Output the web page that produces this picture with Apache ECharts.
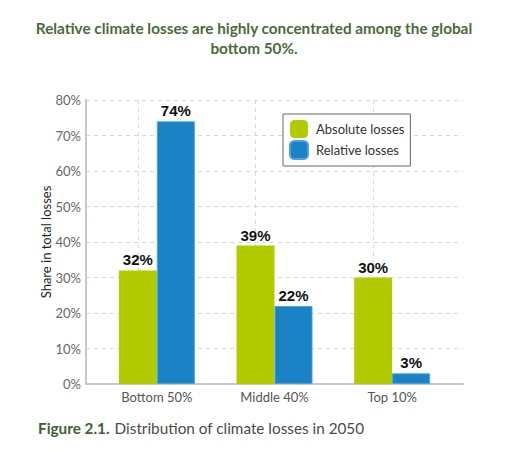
<!DOCTYPE html>
<html><head><meta charset="utf-8">
<script src="https://cdn.jsdelivr.net/npm/echarts@6/dist/echarts.min.js"></script>
<style>html,body{margin:0;padding:0;background:#fff}#c{width:512px;height:450px}</style>
</head><body><div id="c"></div>
<script>
const categories = ['Bottom 50%', 'Middle 40%', 'Top 10%'];
const absoluteLosses = [32, 39, 30];
const relativeLosses = [74, 22, 3];
const yTicks = [0, 10, 20, 30, 40, 50, 60, 70, 80];

const chart = echarts.init(document.getElementById('c'), null, {renderer: 'svg'});
const font = 'Lato, "Noto Sans", sans-serif';
const labelStyle = {show: true, position: 'top', formatter: '{c}%', distance: 3,
  fontFamily: '"Liberation Sans", Arial, sans-serif', fontSize: 15, fontWeight: 'bold', color: '#111'};
chart.setOption({
  backgroundColor: '#fff',
  animation: false,
  title: [{
    text: 'Relative climate losses are highly concentrated among the global\nbottom 50%.',
    left: 254, top: 18, textAlign: 'center', padding: 0,
    textStyle: {fontFamily: font, fontSize: 15.3, fontWeight: 'bold', color: '#4b6a3c', lineHeight: 20, align: 'center'}
  }, {
    text: '{b|Figure 2.1.} {n|Distribution of climate losses in 2050}',
    left: 38, top: 419, padding: 0,
    textStyle: {rich: {
      b: {fontFamily: font, fontSize: 15.3, fontWeight: 'bold', color: '#3f5e34'},
      n: {fontFamily: font, fontSize: 15.3, fontWeight: 'normal', color: '#4a4a4a'}
    }}
  }],
  legend: {
    orient: 'vertical', left: 283, top: 114,
    padding: [6, 6, 6, 6], itemGap: 2,
    itemWidth: 18, itemHeight: 18,
    borderColor: '#666', borderWidth: 1, backgroundColor: '#fff',
    textStyle: {fontFamily: font, fontSize: 13, color: '#333', padding: [0, 0, 0, 3]},
    data: ['Absolute losses', 'Relative losses']
  },
  grid: [
    {left: 86, right: 49, top: 100, bottom: 66},
    {left: 98, right: 61, top: 100, bottom: 66}
  ],
  xAxis: [{
    gridIndex: 0, type: 'category', data: [''],
    axisLine: {show: true, lineStyle: {color: '#c8c8c8', width: 2}},
    axisTick: {show: false}, axisLabel: {show: false}, splitLine: {show: false}
  }, {
    gridIndex: 1, type: 'category', data: categories,
    axisLine: {show: false}, axisTick: {show: false},
    axisLabel: {fontFamily: font, fontSize: 13, color: '#555', margin: 6}
  }],
  yAxis: [{
    gridIndex: 0, type: 'value', min: 0, max: 80, interval: 10,
    name: 'Share in total losses', nameLocation: 'middle', nameGap: 34, nameMoveOverlap: false,
    nameTextStyle: {fontFamily: font, fontSize: 13, color: '#222'},
    axisLine: {show: true, lineStyle: {color: '#c8c8c8', width: 2}},
    axisTick: {show: false},
    axisLabel: {fontFamily: font, fontSize: 13, color: '#666', margin: 5,
      formatter: v => yTicks.includes(v) ? v + '%' : ''},
    splitLine: {show: true, lineStyle: {color: '#d8d8d8', type: [4, 4], width: 1}}
  }, {
    gridIndex: 1, type: 'value', min: 0, max: 80, interval: 10, show: false,
    splitLine: {show: false}
  }],
  series: [{
    name: 'Absolute losses', type: 'bar', xAxisIndex: 1, yAxisIndex: 1, z: 3,
    data: absoluteLosses, barWidth: 38, barGap: '0%',
    itemStyle: {color: '#b2cb00'},
    label: labelStyle,
    markLine: {
      silent: true, symbol: 'none', label: {show: false}, z: 1,
      lineStyle: {color: '#d8d8d8', type: [4, 4], width: 1},
      data: categories.map(c => ({xAxis: c}))
    }
  }, {
    name: 'Relative losses', type: 'bar', xAxisIndex: 1, yAxisIndex: 1, z: 3,
    data: relativeLosses, barWidth: 38, barGap: '0%',
    itemStyle: {color: '#1b82c5', borderColor: '#4aa3dc', borderWidth: 1},
    label: labelStyle
  }]
});
</script></body></html>
